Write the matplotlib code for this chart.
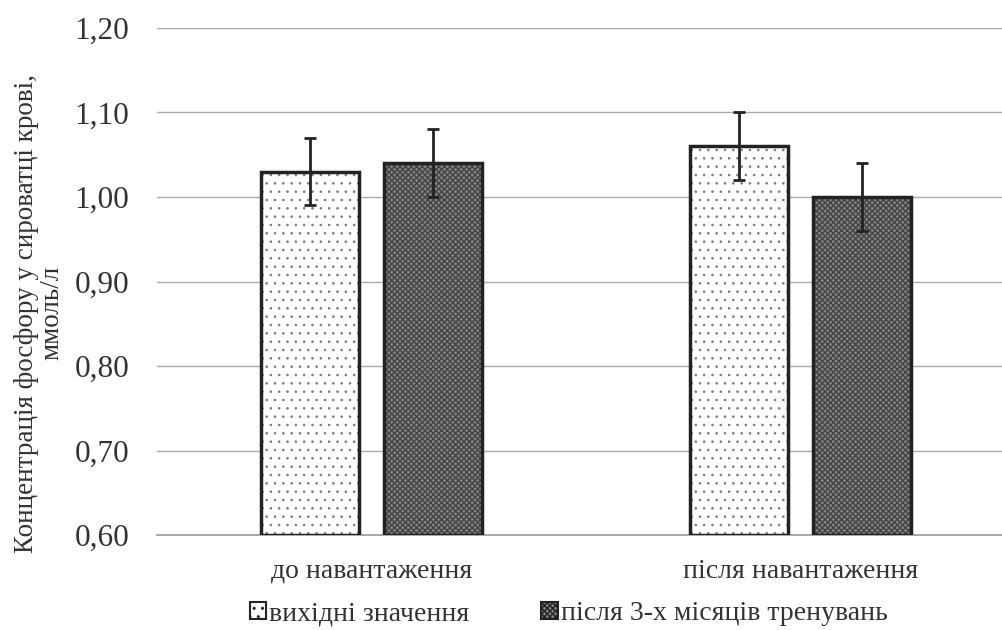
import numpy as np
import matplotlib.pyplot as plt
from matplotlib.patches import Patch

plt.rcParams['font.family'] = ['Liberation Serif', 'DejaVu Serif']

# Дані
categories = ["до навантаження", "після навантаження"]
series_names = ["вихідні значення", "після 3-х місяців тренувань"]
baseline = [1.03, 1.06]
trained = [1.04, 1.00]
baseline_err = [0.04, 0.04]
trained_err = [0.04, 0.04]
yticks = [0.60, 0.70, 0.80, 0.90, 1.00, 1.10, 1.20]

fig = plt.figure(figsize=(10.03, 6.3), dpi=100)
ax = fig.add_axes([157 / 1003, 95 / 630, 858 / 1003, 507 / 630])

x = np.arange(len(categories))
w = 0.228
off = 0.143
text_c = '#333333'

# заливка візерунком (колір штриховки = edgecolor), потім контур окремо
plt.rcParams['hatch.linewidth'] = 0.6
ax.bar(x - off, [v - 0.6 for v in baseline], w, bottom=0.6, facecolor='white',
       edgecolor='#777777', linewidth=0, hatch='..', zorder=3)
plt.rcParams['hatch.linewidth'] = 1.0
ax.bar(x + off, [v - 0.6 for v in trained], w, bottom=0.6, facecolor='#848484',
       edgecolor='#444444', linewidth=0, hatch='xxxxxx', zorder=3)
ax.bar(x - off, [v - 0.6 for v in baseline], w, bottom=0.6, fill=False,
       edgecolor='#222222', linewidth=2.5, zorder=3.5)
ax.bar(x + off, [v - 0.6 for v in trained], w, bottom=0.6, fill=False,
       edgecolor='#222222', linewidth=2.5, zorder=3.5)

ax.errorbar(x - off, baseline, yerr=baseline_err, fmt='none', ecolor='#222222',
            elinewidth=2, capsize=4, capthick=2, zorder=4)
ax.errorbar(x + off, trained, yerr=trained_err, fmt='none', ecolor='#222222',
            elinewidth=2, capsize=4, capthick=2, zorder=4)

ax.set_ylim(0.6, 1.2)
ax.set_xlim(-0.5, 1.5)
ax.set_yticks(yticks)
ax.set_yticklabels([f"{t:.2f}".replace('.', ',') for t in yticks], fontsize=22.5, color=text_c)
ax.set_xticks(x)
ax.set_xticklabels(categories, fontsize=20, color=text_c)
ax.tick_params(axis='y', length=0, pad=20)
ax.tick_params(axis='x', length=0, pad=17)
ax.yaxis.grid(True, color='#aaaaaa', linewidth=1.0, zorder=0)
ax.set_axisbelow(True)
for s in ['left', 'right', 'top']:
    ax.spines[s].set_visible(False)
ax.spines['bottom'].set_color('#999999')
ax.spines['bottom'].set_linewidth(1.2)

# підпис осі Y — два рядки, вирівняні по центру
fig.text(0.039, 0.503, "Концентрація фосфору у сироватці крові,\nммоль/л",
         rotation=90, ha='center', va='center', multialignment='center',
         fontsize=19.5, color=text_c, linespacing=1.05)

handles = [Patch(facecolor='white', edgecolor='#222222', hatch='..', linewidth=1.5),
           Patch(facecolor='#848484', edgecolor='#222222', hatch='xxxxxx', linewidth=1.5)]
fig.legend(handles, series_names, loc='center', bbox_to_anchor=(0.567, 0.026),
           ncol=2, frameon=False, fontsize=20, handlelength=0.6, handleheight=0.6,
           handletextpad=0.1, columnspacing=2.6, labelcolor=text_c)

fig.savefig('out.png', dpi=100)
